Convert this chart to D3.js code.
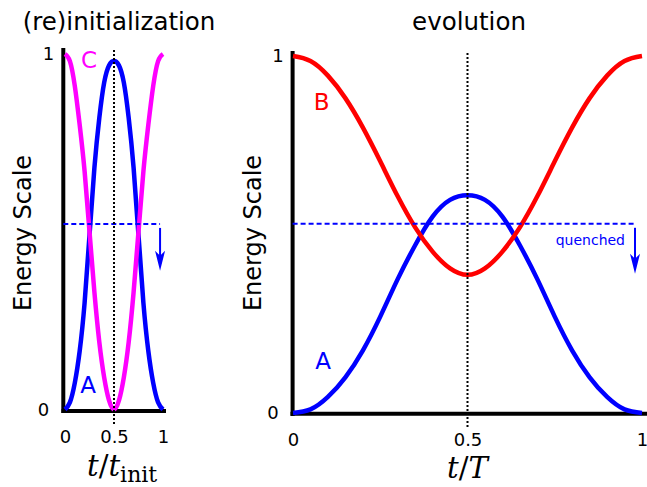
<!DOCTYPE html>
<html>
<head>
<meta charset="utf-8">
<script src="https://cdnjs.cloudflare.com/ajax/libs/d3/7.8.5/d3.min.js"></script>
<style>
	body { margin: 0; background: #fff; }
	svg { display: block; }
</style>
</head>
<body>
<div id="chart"></div>
<script>
//	Sample times (fraction of the period)
var tSteps = [0, 0.05, 0.1, 0.15, 0.2, 0.25, 0.3, 0.35, 0.4, 0.45, 0.5,
			0.55, 0.6, 0.65, 0.7, 0.75, 0.8, 0.85, 0.9, 0.95, 1];

//	(re)initialization panel
var initA = [0, 0.02, 0.075, 0.165, 0.30, 0.49, 0.68, 0.82, 0.92, 0.968, 0.98,
			0.968, 0.92, 0.82, 0.68, 0.49, 0.30, 0.165, 0.075, 0.02, 0];
var initC = [1, 0.98, 0.91, 0.80, 0.67, 0.50, 0.33, 0.19, 0.09, 0.025, 0,
			0.025, 0.09, 0.19, 0.33, 0.50, 0.67, 0.80, 0.91, 0.98, 1];

//	evolution panel
var evolA = [0, 0.01, 0.045, 0.10, 0.175, 0.27, 0.375, 0.47, 0.55, 0.597, 0.61,
			0.597, 0.55, 0.47, 0.375, 0.27, 0.175, 0.10, 0.045, 0.01, 0];
var evolB = [1, 0.986, 0.945, 0.882, 0.80, 0.705, 0.607, 0.52, 0.452, 0.405, 0.387,
			0.405, 0.452, 0.52, 0.607, 0.705, 0.80, 0.882, 0.945, 0.986, 1];

var xTickValues = [0, 0.5, 1],
	xTickLabels = ["0", "0.5", "1"],
	yTickValues = [0, 1],
	yTickLabels = ["0", "1"];

var quenchLevel = [0.522, 0.53],
	arrowEnd = 0.39;

var W = 647, H = 487;

var svg = d3.select("#chart")
	.append("svg")
	.attr("width", W)
	.attr("height", H)
	.attr("font-family", "DejaVu Sans");

panel({
	title: "(re)initialization", titleX: 119,
	xRange: [65, 163], yRange: [409.5, 54],
	ySpine: [48, 413], xSpine: [61.5, 166], xSpineY: 411, ySpineX: 63.3,
	dotEnd: 425, arrowAt: 0.97, quench: quenchLevel[0],
	series: [
		{ values: initA, color: "#0000ff", label: "A", lx: 0.235, ly: 0.069 },
		{ values: initC, color: "#ff00ff", label: "C", lx: 0.245, ly: 0.983 }
	],
	xlabel: "left"
});

panel({
	title: "evolution", titleX: 469,
	xRange: [293, 642], yRange: [413, 56],
	ySpine: [51, 416], xSpine: [290.5, 650], xSpineY: 413.8, ySpineX: 292.6,
	dotEnd: 428, arrowAt: 0.98, quench: quenchLevel[1],
	series: [
		{ values: evolA, color: "#0000ff", label: "A", lx: 0.086, ly: 0.146 },
		{ values: evolB, color: "#ff0000", label: "B", lx: 0.082, ly: 0.871 }
	],
	quenchText: "quenched",
	xlabel: "right"
});

function panel(p) {
	var x = d3.scaleLinear().domain([0, 1]).range(p.xRange),
		y = d3.scaleLinear().domain([0, 1]).range(p.yRange);

	var g = svg.append("g");

	//	Title
	g.append("text")
		.attr("x", p.titleX)
		.attr("y", 30)
		.attr("text-anchor", "middle")
		.attr("font-size", 24.5)
		.text(p.title);

	//	Y label
	g.append("text")
		.attr("transform", "translate(" + (p.ySpineX - 32) + "," + 233 + ") rotate(-90)")
		.attr("text-anchor", "middle")
		.attr("font-size", 24)
		.text("Energy Scale");

	//	Spines
	g.append("line")
		.attr("x1", p.ySpineX).attr("x2", p.ySpineX)
		.attr("y1", p.ySpine[0]).attr("y2", p.ySpine[1])
		.attr("stroke", "#000")
		.attr("stroke-width", 4);
	g.append("line")
		.attr("x1", p.xSpine[0]).attr("x2", p.xSpine[1])
		.attr("y1", p.xSpineY).attr("y2", p.xSpineY)
		.attr("stroke", "#000")
		.attr("stroke-width", 4);

	//	Tick labels
	var xAxis = g.append("g")
		.attr("transform", "translate(0," + p.xSpineY + ")")
		.call(d3.axisBottom(x)
			.tickValues(xTickValues)
			.tickFormat(function(d, i) { return xTickLabels[i]; })
			.tickSize(0)
			.tickPadding(19));
	xAxis.select(".domain").remove();
	xAxis.selectAll("text")
		.attr("font-size", 18)
		.attr("font-family", "DejaVu Sans")
		.attr("fill", "#000");

	var yAxis = g.append("g")
		.attr("transform", "translate(" + p.ySpineX + ",0)")
		.call(d3.axisLeft(y)
			.tickValues(yTickValues)
			.tickFormat(function(d, i) { return yTickLabels[i]; })
			.tickSize(0));
	yAxis.select(".domain").remove();
	yAxis.selectAll("text")
		.attr("x", function(d) { return d === 0 ? -14 : -9; })
		.attr("font-size", 18)
		.attr("font-family", "DejaVu Sans")
		.attr("fill", "#000");

	//	Curves
	var line = d3.line()
		.x(function(d, i) { return x(tSteps[i]); })
		.y(function(d) { return y(d); })
		.curve(d3.curveNatural);

	p.series.forEach(function(s) {
		g.append("path")
			.attr("d", line(s.values))
			.attr("fill", "none")
			.attr("stroke", s.color)
			.attr("stroke-width", 4.5);

		g.append("text")
			.attr("x", x(s.lx))
			.attr("y", y(s.ly))
			.attr("text-anchor", "middle")
			.attr("dominant-baseline", "central")
			.attr("font-size", 23)
			.attr("fill", s.color)
			.text(s.label);
	});

	//	Quench level and arrow
	var ax = x(p.arrowAt);

	g.append("line")
		.attr("x1", p.ySpineX).attr("x2", ax)
		.attr("y1", y(p.quench)).attr("y2", y(p.quench))
		.attr("stroke", "#0000ff")
		.attr("stroke-width", 2)
		.attr("stroke-dasharray", "5,3");

	var tip = y(arrowEnd);
	g.append("line")
		.attr("x1", ax).attr("x2", ax)
		.attr("y1", y(p.quench) + 4).attr("y2", tip - 8)
		.attr("stroke", "#0000ff")
		.attr("stroke-width", 2);
	g.append("path")
		.attr("d", "M" + ax + "," + tip +
			"L" + (ax - 5) + "," + (tip - 20) +
			"L" + ax + "," + (tip - 15) +
			"L" + (ax + 5) + "," + (tip - 20) + "Z")
		.attr("fill", "#0000ff");

	if (p.quenchText) {
		g.append("text")
			.attr("x", ax - 10)
			.attr("y", y(p.quench) + 21)
			.attr("text-anchor", "end")
			.attr("font-size", 14)
			.attr("fill", "#0000ff")
			.text(p.quenchText);
	}

	//	Midpoint marker
	g.append("line")
		.attr("x1", x(0.5)).attr("x2", x(0.5))
		.attr("y1", p.ySpine[0] + 2).attr("y2", p.dotEnd)
		.attr("stroke", "#000")
		.attr("stroke-width", 2)
		.attr("stroke-dasharray", "2,2");

	//	X label
	var left = p.xlabel === "left";
	var xl = g.append("text")
		.attr("x", left ? 87 : x(0.5))
		.attr("y", left ? 476 : 478)
		.attr("text-anchor", left ? "start" : "middle")
		.attr("font-family", "DejaVu Serif")
		.attr("font-size", 29);
	xl.append("tspan").attr("font-style", "italic").text("t");
	xl.append("tspan").text("/");
	if (left) {
		xl.append("tspan").attr("font-style", "italic").text("t");
		xl.append("tspan")
			.attr("font-size", 22)
			.attr("dy", 6)
			.text("init");
	} else {
		xl.append("tspan").attr("font-style", "italic").text("T");
	}
}
</script>
</body>
</html>
